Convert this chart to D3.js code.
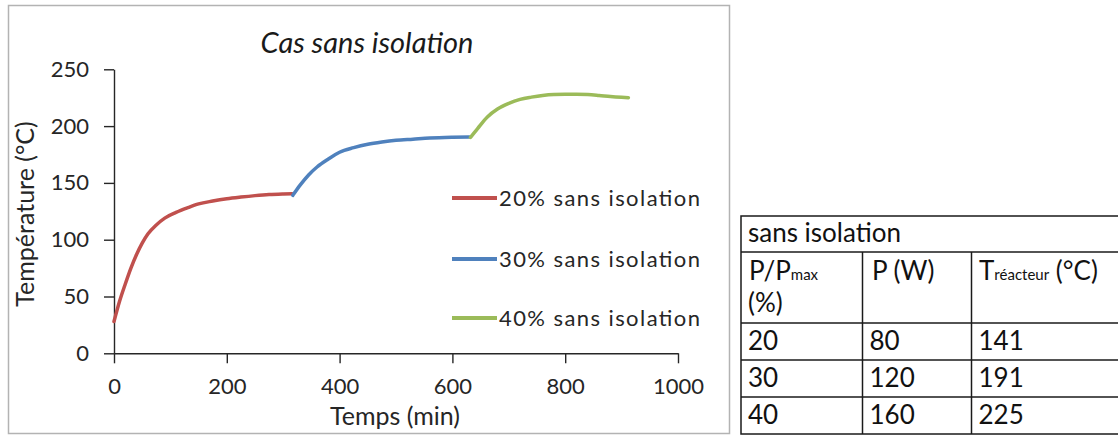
<!DOCTYPE html>
<html>
<head>
<meta charset="utf-8">
<script src="https://cdn.jsdelivr.net/npm/d3@7"></script>
<style>
  body { margin: 0; background: #fff; }
  svg { display: block; font-family: Lato, "Open Sans", sans-serif; }
  .axis path, .axis line { stroke: #262626; stroke-width: 1.4; }
  .axis text { font-size: 22px; fill: #262626; font-family: Lato, sans-serif; }
</style>
</head>
<body>
<div id="chart"></div>
<script>
// time (min) / temperature (°C)
const t20 = [0, 10, 20, 30, 40, 50, 60, 75, 90, 110, 130, 150, 175, 200, 225, 250, 275, 300, 316];
const T20 = [28, 46, 61, 75, 87, 97, 105, 113, 119, 124, 128, 131.5, 134, 136, 137.5, 138.8, 139.8, 140.3, 140.5];
const t30 = [317, 330, 345, 360, 380, 400, 425, 450, 475, 500, 530, 560, 600, 630];
const T30 = [139, 148, 157, 164, 171, 177, 181, 184, 186, 187.5, 188.5, 189.5, 190.2, 190.5];
const t40 = [632, 645, 662, 680, 700, 720, 740, 760, 780, 800, 820, 840, 860, 880, 900, 912];
const T40 = [190, 198, 208, 215, 220, 223.5, 225.5, 227, 227.8, 228, 228, 227.8, 227, 226, 225.3, 225];

const seriesNames = ["20% sans isolation", "30% sans isolation", "40% sans isolation"];
const seriesColors = ["#C0504D", "#4F81BD", "#9BBB59"];
const seriesTimes = [t20, t30, t40];
const seriesTemps = [T20, T30, T40];

const xTicks = [0, 200, 400, 600, 800, 1000];
const yTicks = [0, 50, 100, 150, 200, 250];

const tableTitle = "sans isolation";
const colPct = ["20", "30", "40"];
const colPower = ["80", "120", "160"];
const colTemp = ["141", "191", "225"];

const W = 1118, H = 435;
const svg = d3.select("#chart").append("svg").attr("width", W).attr("height", H);

// chart frame
svg.append("rect")
  .attr("x", 8.5).attr("y", 5.5).attr("width", 721).attr("height", 428)
  .attr("fill", "#fff").attr("stroke", "#b3b3b3").attr("stroke-width", 1.5);

const x = d3.scaleLinear().domain([0, 1000]).range([114, 678]);
const y = d3.scaleLinear().domain([0, 250]).range([353.3, 69.3]);

svg.append("g")
  .attr("class", "axis")
  .attr("transform", `translate(0,${y(0)})`)
  .call(d3.axisBottom(x).tickValues(xTicks).tickFormat(d3.format("d"))
    .tickSize(10).tickSizeOuter(0).tickPadding(15));

svg.append("g")
  .attr("class", "axis")
  .attr("transform", `translate(${x(0)},0)`)
  .call(d3.axisLeft(y).tickValues(yTicks).tickSize(10).tickSizeOuter(0).tickPadding(15));

const line = d3.line()
  .x(d => x(d[0]))
  .y(d => y(d[1]))
  .curve(d3.curveMonotoneX);

seriesTimes.forEach((ts, i) => {
  svg.append("path")
    .datum(ts.map((t, j) => [t, seriesTemps[i][j]]))
    .attr("fill", "none")
    .attr("stroke", seriesColors[i])
    .attr("stroke-width", 3.5)
    .attr("stroke-linecap", "round")
    .attr("d", line);
});

// title and axis titles
svg.append("text")
  .attr("x", 367).attr("y", 53)
  .attr("text-anchor", "middle")
  .attr("font-size", 29).attr("font-style", "italic").attr("fill", "#1a1a1a")
  .text("Cas sans isolation");

svg.append("text")
  .attr("x", 395).attr("y", 425)
  .attr("text-anchor", "middle")
  .attr("font-size", 25).attr("fill", "#262626")
  .text("Temps (min)");

svg.append("text")
  .attr("transform", "translate(34,214) rotate(-90)")
  .attr("text-anchor", "middle")
  .attr("font-size", 25).attr("fill", "#262626")
  .text("Température (°C)");

// legend
const legendY = [198, 259, 318];
const legend = svg.append("g");
seriesNames.forEach((name, i) => {
  legend.append("line")
    .attr("x1", 452).attr("x2", 497)
    .attr("y1", legendY[i]).attr("y2", legendY[i])
    .attr("stroke", seriesColors[i]).attr("stroke-width", 4);
  legend.append("text")
    .attr("x", 499).attr("y", legendY[i] + 8)
    .attr("font-size", 22).attr("fill", "#262626")
    .attr("textLength", 201).attr("lengthAdjust", "spacing")
    .text(name);
});

// table
const tb = svg.append("g").attr("class", "table");
const tLeft = 741, tRight = 1130;
const rowEdges = [216, 252, 323, 360, 397, 434];
const colEdges = [741, 862.5, 971.5];
tb.append("rect")
  .attr("x", tLeft).attr("y", rowEdges[0])
  .attr("width", tRight - tLeft).attr("height", rowEdges[5] - rowEdges[0])
  .attr("fill", "#fff").attr("stroke", "#1a1a1a").attr("stroke-width", 1.5);
rowEdges.slice(1, 5).forEach(ry => {
  tb.append("line").attr("x1", tLeft).attr("x2", tRight).attr("y1", ry).attr("y2", ry)
    .attr("stroke", "#1a1a1a").attr("stroke-width", 1.5);
});
colEdges.slice(1).forEach(cx => {
  tb.append("line").attr("x1", cx).attr("x2", cx).attr("y1", rowEdges[1]).attr("y2", rowEdges[5])
    .attr("stroke", "#1a1a1a").attr("stroke-width", 1.5);
});

const cellText = (xx, yy, s) => tb.append("text")
  .attr("x", xx).attr("y", yy).attr("font-size", 26).attr("fill", "#111").text(s);

cellText(748, 242, tableTitle);

const h1 = cellText(749, 280, "P/P");
h1.append("tspan").attr("font-size", 15).text("max");
cellText(748, 312, "(%)");
cellText(872, 280, "P (W)");
const h3 = cellText(979, 280, "T");
h3.append("tspan").attr("font-size", 15).text("réacteur");
h3.append("tspan").text(" (°C)");

[colPct, colPower, colTemp].forEach((col, c) => {
  col.forEach((v, r) => {
    cellText(colEdges[c] + 7, rowEdges[r + 2] + 27, v);
  });
});
</script>
</body>
</html>
